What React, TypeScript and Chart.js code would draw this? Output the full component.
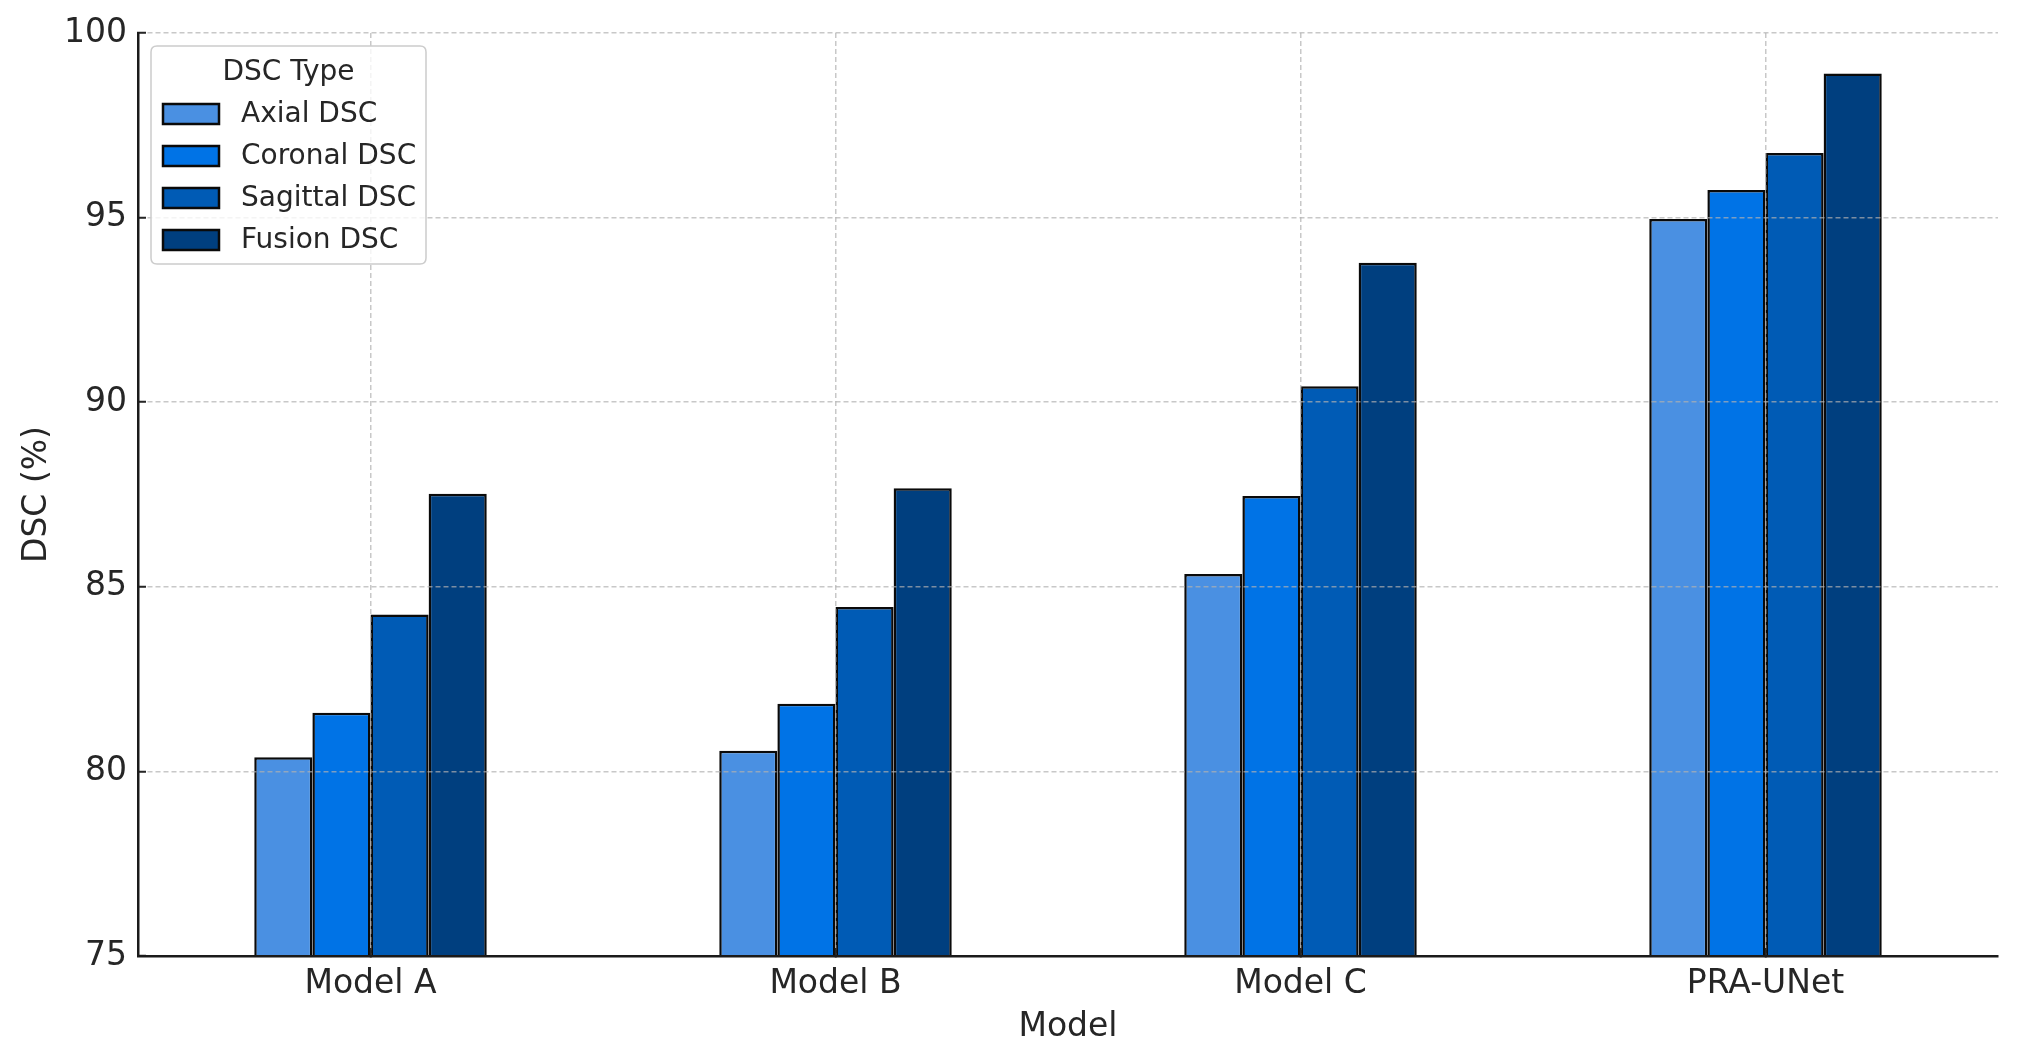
import React, { useEffect, useRef } from "react";
import { Chart, registerables } from "chart.js";

Chart.register(...registerables);

const categories = ["Model A", "Model B", "Model C", "PRA-UNet"];
const seriesNames = ["Axial DSC", "Coronal DSC", "Sagittal DSC", "Fusion DSC"];
const axialValues = [80.38, 80.56, 85.35, 94.96];
const coronalValues = [81.59, 81.83, 87.46, 95.75];
const sagittalValues = [84.25, 84.45, 90.43, 96.75];
const fusionValues = [87.52, 87.67, 93.78, 98.9];
const seriesColors = ["#4a90e2", "#0073e6", "#005bb5", "#003f7f"];
const yTicks = [75, 80, 85, 90, 95, 100];
const legendTitle = "DSC Type";
const xTitle = "Model";
const yTitle = "DSC (%)";

const FONT = "'DejaVu Sans', sans-serif";
const TEXT = "#262626";
const GRID = "rgba(176,176,176,0.7)";

const legendPlugin = {
  id: "boxLegend",
  afterDraw(chart: any) {
    const ctx = chart.ctx as CanvasRenderingContext2D;
    const x0 = 151, y0 = 46, w = 275, h = 218, r = 6;
    ctx.save();
    ctx.beginPath();
    ctx.moveTo(x0 + r, y0);
    ctx.lineTo(x0 + w - r, y0);
    ctx.quadraticCurveTo(x0 + w, y0, x0 + w, y0 + r);
    ctx.lineTo(x0 + w, y0 + h - r);
    ctx.quadraticCurveTo(x0 + w, y0 + h, x0 + w - r, y0 + h);
    ctx.lineTo(x0 + r, y0 + h);
    ctx.quadraticCurveTo(x0, y0 + h, x0, y0 + h - r);
    ctx.lineTo(x0, y0 + r);
    ctx.quadraticCurveTo(x0, y0, x0 + r, y0);
    ctx.closePath();
    ctx.fillStyle = "rgba(255,255,255,0.8)";
    ctx.fill();
    ctx.strokeStyle = "#cccccc";
    ctx.lineWidth = 1.5;
    ctx.stroke();

    ctx.fillStyle = TEXT;
    ctx.font = `28px ${FONT}`;
    ctx.textAlign = "center";
    ctx.textBaseline = "middle";
    ctx.fillText(legendTitle, x0 + w / 2, 73);

    const rowY = [114, 156, 198, 240];
    chart.data.datasets.forEach((ds: any, i: number) => {
      const cy = rowY[i];
      ctx.fillStyle = ds.backgroundColor;
      ctx.fillRect(163, cy - 10, 56, 20);
      ctx.strokeStyle = "#0a0a0a";
      ctx.lineWidth = 2.5;
      ctx.strokeRect(163, cy - 10, 56, 20);
      ctx.fillStyle = TEXT;
      ctx.textAlign = "left";
      ctx.font = `28px ${FONT}`;
      ctx.fillText(ds.label, 241, cy + 1);
    });
    ctx.restore();
  },
};

export default function App() {
  const ref = useRef<HTMLCanvasElement | null>(null);

  useEffect(() => {
    if (!ref.current) return;
    const values = [axialValues, coronalValues, sagittalValues, fusionValues];
    const chart = new Chart(ref.current, {
      type: "bar",
      data: {
        labels: categories,
        datasets: seriesNames.map((name, i) => ({
          label: name,
          data: values[i],
          backgroundColor: seriesColors[i],
          borderColor: "#0a0a0a",
          borderWidth: 2.5,
          borderSkipped: false,
          barPercentage: 1,
          categoryPercentage: 0.5,
        })),
      },
      options: {
        responsive: false,
        animation: false,
        devicePixelRatio: 1,
        layout: { padding: { top: 33, right: 19, left: 0, bottom: 0 } },
        plugins: {
          legend: { display: false },
          tooltip: { enabled: false },
        },
        scales: {
          x: {
            offset: true,
            afterFit: (s: any) => {
              s.height = 107;
              s.paddingLeft = 0;
              s.paddingRight = 0;
            },
            grid: {
              offset: false,
              color: GRID,
              lineWidth: 1.5,
              z: 1,
              tickLength: -8,
              tickColor: TEXT,
              tickWidth: 2,
            },
            border: { display: true, color: "#1a1a1a", width: 2.5, dash: [5, 3], z: 2 },
            ticks: {
              color: TEXT,
              font: { family: FONT, size: 33 },
              padding: 17,
              maxRotation: 0,
            },
            title: {
              display: true,
              text: xTitle,
              color: TEXT,
              font: { family: FONT, size: 33 },
              padding: { top: 0, bottom: 16 },
            },
          },
          y: {
            min: 75,
            max: 100,
            afterFit: (s: any) => {
              s.width = 138;
              s.paddingTop = 0;
              s.paddingBottom = 0;
            },
            afterBuildTicks: (s: any) => {
              s.ticks = yTicks.map((v) => ({ value: v }));
            },
            grid: {
              color: GRID,
              lineWidth: 1.5,
              z: 1,
              tickLength: -8,
              tickColor: TEXT,
              tickWidth: 2,
            },
            border: { display: true, color: "#1a1a1a", width: 2.5, dash: [5, 3], z: 2 },
            ticks: {
              color: TEXT,
              font: { family: FONT, size: 33 },
              padding: 19,
            },
            title: {
              display: true,
              text: yTitle,
              color: TEXT,
              font: { family: FONT, size: 33 },
              padding: { top: 18, bottom: 0 },
            },
          },
        },
      },
      plugins: [legendPlugin],
    });
    return () => chart.destroy();
  }, []);

  return (
    <div style={{ position: "absolute", left: 0, top: 0, width: 2017, height: 1063, background: "#fff" }}>
      <canvas ref={ref} width={2017} height={1063} style={{ display: "block" }} />
    </div>
  );
}
